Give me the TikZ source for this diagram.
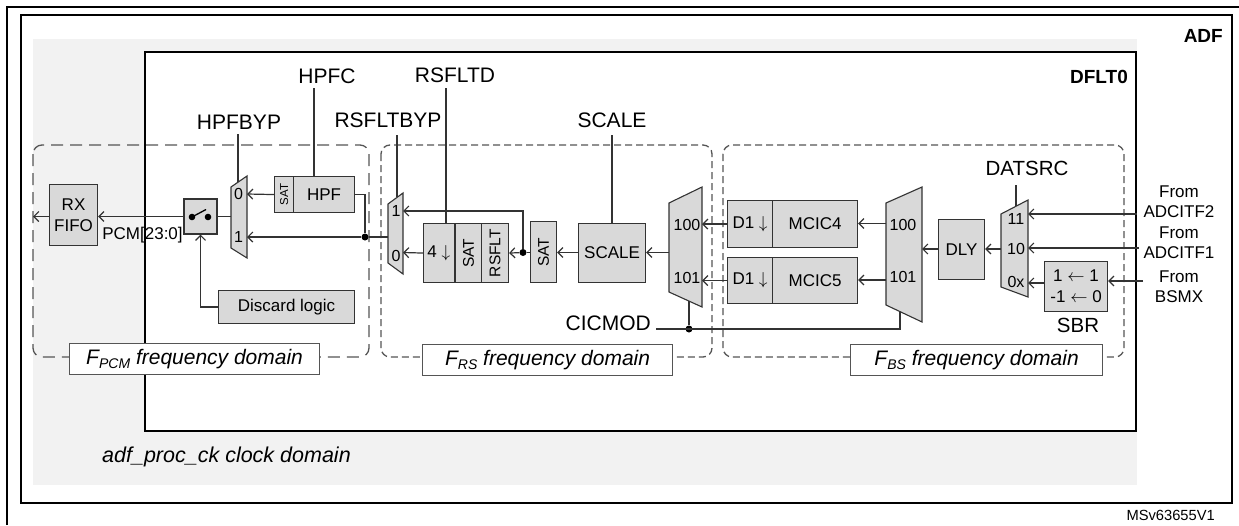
\documentclass[tikz,border=0pt]{standalone}
\usepackage{fontspec}
\setmainfont{Liberation Sans}
\usepackage{graphicx}
\usetikzlibrary{arrows.meta}
\definecolor{boxgray}{HTML}{D9D9D9}
\definecolor{bggray}{HTML}{F2F2F2}
\definecolor{linec}{HTML}{333333}
\definecolor{dashc}{HTML}{555555}
\newcommand\fsz[1]{\fontsize{#1}{#1}\selectfont}
\newcommand\fszb[2]{\fontsize{#1}{#2}\selectfont}
\newcommand\darr{$\downarrow$}
\newcommand\larr{$\leftarrow$}
\begin{document}
\begin{tikzpicture}[x=1pt,y=-1pt,
  blk/.style={draw=linec, fill=boxgray, line width=1.1pt, inner sep=0pt, anchor=north west, font=\fsz{17}},
  mux/.style={draw=linec, fill=boxgray, line width=1.1pt},
  wire/.style={draw=linec, line width=1.2pt},
  arr/.style={wire, -{Straight Barb[length=5pt,width=10pt]}},
  dom/.style={draw=dashc, line width=1.3pt, rounded corners=9pt, dash pattern=on 7pt off 4pt},
  domlab/.style={draw=dashc, fill=white, line width=1.2pt, inner sep=0pt, anchor=north west, minimum width=250pt, minimum height=31pt, font=\fsz{21}\itshape},
  lbl/.style={inner sep=0pt, font=\fsz{21}},
  mlbl/.style={inner sep=0pt, font=\fsz{16}},
  frm/.style={inner sep=0pt, font=\fszb{17}{20}, align=center},
  jdot/.style={circle, fill=black, inner sep=0pt, minimum size=7pt}
]
\useasboundingbox (0,0) rectangle (1239,525);
% frames
\draw[line width=1.8pt] (7,525) -- (7,7) -- (1239,7);
\draw[line width=2.5pt] (21,15) rectangle (1232,503);
\fill[bggray] (33,39) rectangle (1137,485);
\draw[line width=2.5pt, fill=white] (145,52) rectangle (1136,431);
\node[inner sep=0pt, anchor=east, font=\fsz{19}\bfseries] (adf) at (1223,36) {ADF};
\node[inner sep=0pt, anchor=east, font=\fsz{19}\bfseries] (dflt) at (1128,77) {DFLT0};
\node[inner sep=0pt, anchor=west, font=\fsz{21.5}\itshape] (clk) at (102,457) {adf\_proc\_ck clock domain};
\node[inner sep=0pt, anchor=east, font=\fsz{14.7}] (ms) at (1215,515) {MSv63655V1};

% domains
\draw[dom, dash pattern=on 12pt off 7pt] (33,145) rectangle (369,357);
\draw[dom] (381,145) rectangle (712,357);
\draw[dom] (723,145) rectangle (1124,357);

% ---------- PCM section ----------
\node[blk, minimum width=48pt, minimum height=61pt, align=center, font=\fszb{17}{21}] (fifo) at (49,184) {RX\\FIFO};
\node[blk, minimum width=33pt, minimum height=35pt, anchor=center] (sw) at (200.5,216.5) {};
\fill[black] (192,217) circle (3.3pt);
\fill[black] (208,217) circle (3.3pt);
\draw[line width=1.3pt] (192,217) -- (206,209.5);
\node[blk, minimum width=136pt, minimum height=33pt] (disc) at (218,290) {Discard logic};
\node[blk, minimum width=19pt, minimum height=36pt, font=\fsz{11.5}] (sat0) at (274,176) {\rotatebox{90}{SAT}};
\node[blk, minimum width=61pt, minimum height=36pt] (hpf) at (293,176) {HPF};
\draw[mux] (231,187) -- (247,176) -- (247,258) -- (231,248) -- cycle;
\node[mlbl] (m0l0) at (238.5,194) {0};
\node[mlbl] (m0l1) at (238.5,237) {1};
\node[inner sep=0pt, font=\fsz{17}] (pcm) at (142.5,235) {PCM[23:0]};
\node[lbl] (hpfc) at (327,76) {HPFC};
\node[lbl] (hpfbyp) at (239,122) {HPFBYP};

\coordinate (m0i0) at (247,194);
\coordinate (m0i1) at (247,237);
\coordinate (m0o) at (231,216.5);
\coordinate (m0t) at (238,182.2);
\coordinate (pcmo) at (33,216.5);
\node[jdot] (j1) at (365,237) {};

% ---------- RS section ----------
\draw[mux] (388,204) -- (403,193) -- (403,274) -- (388,263) -- cycle;
\node[mlbl] (m1l1) at (396,211) {1};
\node[mlbl] (m1l0) at (396,256) {0};
\node[blk, minimum width=30.5pt, minimum height=59pt] (dec4) at (423,223) {4 \darr};
\node[blk, minimum width=26pt, minimum height=59pt, font=\fsz{15.5}] (sat1) at (455,223) {\rotatebox{90}{SAT}};
\node[blk, minimum width=27pt, minimum height=59pt, font=\fsz{15.5}] (rsflt) at (481,223) {\rotatebox{90}{RSFLT}};
\node[blk, minimum width=26pt, minimum height=61pt, font=\fsz{15.5}] (sat2) at (530,221) {\rotatebox{90}{SAT}};
\node[blk, minimum width=67pt, minimum height=59pt] (scale) at (578,223) {SCALE};
\draw[mux] (669,203) -- (702,187) -- (702,307) -- (669,292) -- cycle;
\node[mlbl] (m2l100) at (687,225) {100};
\node[mlbl] (m2l101) at (687,278) {101};
\node[lbl] (rsbyp) at (388,120) {RSFLTBYP};
\node[lbl] (rsd) at (455,75) {RSFLTD};
\node[lbl] (scl) at (612,120) {SCALE};
\node[lbl, anchor=east] (cicmod) at (651,323) {CICMOD};
\coordinate (m1i1) at (403,211);
\coordinate (m1i0) at (403,252.5);
\coordinate (m1o) at (388,237);
\coordinate (m1t) at (397,197.4);
\node[jdot] (j2) at (523,252.5) {};
\coordinate (m2i100) at (702,223.5);
\coordinate (m2i101) at (702,280);
\coordinate (m2o) at (669,252.5);
\coordinate (m2b) at (689,301);

% ---------- BS section ----------
\node[blk, minimum width=45pt, minimum height=47pt] (d1a) at (727,200) {D1 \darr};
\node[blk, minimum width=85pt, minimum height=47pt] (mcic4) at (772,200) {MCIC4};
\node[blk, minimum width=45pt, minimum height=46pt] (d1b) at (727,257) {D1 \darr};
\node[blk, minimum width=85pt, minimum height=46pt] (mcic5) at (772,257) {MCIC5};
\draw[mux] (886,203) -- (922,187) -- (922,322) -- (886,305) -- cycle;
\node[mlbl] (m3l100) at (903,225) {100};
\node[mlbl] (m3l101) at (903,277) {101};
\node[blk, minimum width=46pt, minimum height=60pt] (dly) at (938,219) {DLY};
\draw[mux] (1001,214) -- (1028,200) -- (1028,297) -- (1001,287) -- cycle;
\node[mlbl] (m4l11) at (1016,219) {11};
\node[mlbl] (m4l10) at (1016,249) {10};
\node[mlbl] (m4l0x) at (1016,282) {0x};
\node[blk, minimum width=63pt, minimum height=50pt, align=center, font=\fszb{17}{21}] (sbr) at (1044,261) {1 \larr\ 1\\-1 \larr\ 0};
\node[inner sep=0pt, font=\fsz{20.5}] (sbrl) at (1078,325) {SBR};
\node[inner sep=0pt, font=\fsz{20.5}] (datsrc) at (1027,168) {DATSRC};
\node[frm] (f1) at (1179,202) {From\\ADCITF2};
\node[frm] (f2) at (1179,242.5) {From\\ADCITF1};
\node[frm] (f3) at (1179,287) {From\\BSMX};
\coordinate (m3o100) at (886,223.5);
\coordinate (m3o101) at (886,280);
\coordinate (m3i) at (922,249);
\coordinate (m3b) at (900,311.6);
\coordinate (m4o) at (1001,249);
\coordinate (m4i11) at (1028,214);
\coordinate (m4i10) at (1028,248);
\coordinate (m4i0x) at (1028,283);
\coordinate (m4t) at (1016,206.2);
\coordinate (in11) at (1137,214);
\coordinate (in10) at (1139,248);
\coordinate (inbs) at (1143,281);
\coordinate (cm) at (656,329);
\node[jdot] (j3) at (689,329) {};

% ---------- connectors ----------
\draw[arr] (sat0.west) -- (m0i0);
\draw[wire] (hpf.east) -| (j1);
\draw[arr] (j1) -- (m0i1);
\draw[wire] (m0o) -- (sw.east);
\draw[arr] (sw.west) -- (sw.west -| fifo.east);
\draw[arr] (fifo.west |- sw.west) -- (pcmo);
\draw[arr] (disc.west) -| (sw.south);
\draw[wire] (j1) -- (m1o);
\draw[arr] (dec4.west) -- (m1i0);
\draw[arr] (j2) -- (rsflt.east);
\draw[arr] (j2) |- (m1i1);
\draw[wire] (sat2.west |- j2) -- (j2);
\draw[arr] (scale.west |- j2) -- (sat2.east |- j2);
\draw[arr] (m2o) -- (scale.east |- m2o);
\draw[arr] (d1a.west) -- (d1a.west -| m2i100);
\draw[arr] (d1b.west) -- (d1b.west -| m2i101);
\draw[arr] (m3o100) -- (m3o100 -| mcic4.east);
\draw[arr] (m3o101) -- (m3o101 -| mcic5.east);
\draw[arr] (dly.west |- m3i) -- (m3i);
\draw[arr] (m4o) -- (m4o -| dly.east);
\draw[arr] (in11) -- (m4i11);
\draw[arr] (in10) -- (m4i10);
\draw[arr] (inbs) -- (inbs -| sbr.east);
\draw[arr] (sbr.west |- m4i0x) -- (m4i0x);
\draw[wire] (cm) -- (cm -| m3b) -- (m3b);
\draw[wire] (j3) -- (m2b);

% control lines
\coordinate (hpfcL) at (314,88);
\draw[wire] (hpfcL) -- (hpfcL |- hpf.north);
\coordinate (hpfbypL) at (238,134);
\draw[wire] (hpfbypL) -- (m0t);
\coordinate (rsbypL) at (397,135);
\draw[wire] (rsbypL) -- (m1t);
\coordinate (rsdL) at (446,88);
\draw[wire] (rsdL) -- (rsdL |- dec4.north);
\coordinate (scaleL) at (612,135);
\draw[wire] (scaleL) -- (scaleL |- scale.north);
\coordinate (datL) at (1016,185);
\draw[wire] (datL) -- (m4t);

% domain labels
\node[domlab] (lpcm) at (69,343) {F\raisebox{-4pt}{\fsz{14}PCM} frequency domain};
\node[domlab] (lrs) at (422,344) {F\raisebox{-4pt}{\fsz{14}RS} frequency domain};
\node[domlab, minimum width=252pt] (lbs) at (850,344) {F\raisebox{-4pt}{\fsz{14}BS} frequency domain};
\end{tikzpicture}
\end{document}
